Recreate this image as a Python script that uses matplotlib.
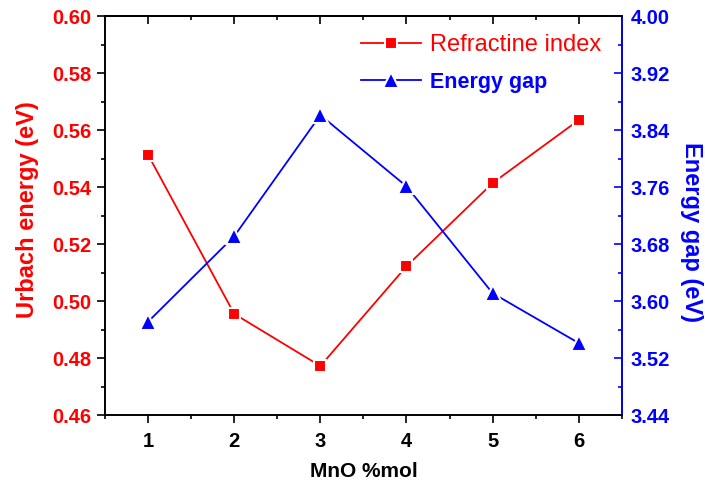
import matplotlib.pyplot as plt
from matplotlib.ticker import MultipleLocator, FormatStrFormatter
from matplotlib.lines import Line2D

plt.rcParams['font.family'] = ['Liberation Sans', 'DejaVu Sans']

mno = [1, 2, 3, 4, 5, 6]
urbach = [0.5513, 0.4955, 0.4772, 0.5122, 0.5414, 0.5635]
gap = [3.571, 3.691, 3.861, 3.761, 3.611, 3.541]

red = '#ff0000'
blue = '#0000ff'

fig = plt.figure(figsize=(7.05, 4.86), dpi=100)
ax = fig.add_axes([0.149, 0.146, 0.733, 0.821])
ax2 = ax.twinx()

# white marker edges leave a small gap between the line and the marker
sq_style = dict(color=red, marker='s', markersize=9, markeredgecolor='white',
                markeredgewidth=1.5, linewidth=1.3)
tri_style = dict(color=blue, marker='^', markersize=12, markeredgecolor='white',
                 markeredgewidth=1.5, linewidth=1.3)
ax.plot(mno, urbach, **sq_style)
ax2.plot(mno, gap, **tri_style)

ax.set_xlim(0.5, 6.5)
ax.set_ylim(0.46, 0.60)
ax2.set_ylim(3.44, 4.00)

ax.xaxis.set_major_locator(MultipleLocator(1))
ax.xaxis.set_minor_locator(MultipleLocator(0.5))
ax.yaxis.set_major_locator(MultipleLocator(0.02))
ax.yaxis.set_minor_locator(MultipleLocator(0.01))
ax.yaxis.set_major_formatter(FormatStrFormatter('%.2f'))
ax2.yaxis.set_major_locator(MultipleLocator(0.08))
ax2.yaxis.set_minor_locator(MultipleLocator(0.04))
ax2.yaxis.set_major_formatter(FormatStrFormatter('%.2f'))

ax.tick_params(axis='x', which='both', direction='out', labelsize=14.5, width=1.2, pad=6)
ax.tick_params(axis='x', which='major', length=6)
ax.tick_params(axis='x', which='minor', length=3)
ax.tick_params(axis='y', which='major', length=6, width=1.2, labelsize=14.5,
               labelcolor=red, pad=4)
ax.tick_params(axis='y', which='minor', length=3, width=1.2)
# right axis ticks point inward
ax2.tick_params(axis='y', which='both', direction='in', width=1.2, labelsize=14.5,
                color=blue, labelcolor=blue, pad=6.5)
ax2.tick_params(axis='y', which='major', length=6)
ax2.tick_params(axis='y', which='minor', length=3)

# inward ticks along the top edge
top = ax.secondary_xaxis('top')
top.xaxis.set_major_locator(MultipleLocator(1))
top.xaxis.set_minor_locator(MultipleLocator(0.5))
top.tick_params(which='both', direction='in', labeltop=False, width=1.2)
top.tick_params(which='major', length=6)
top.tick_params(which='minor', length=3)
top.spines['top'].set_linewidth(1.2)

for lab in ax.get_xticklabels() + ax.get_yticklabels() + ax2.get_yticklabels():
    lab.set_fontweight('bold')

for s in ax.spines.values():
    s.set_linewidth(1.2)
for s in ax2.spines.values():
    s.set_linewidth(1.2)
ax2.spines['right'].set_color(blue)

ax.set_xlabel('MnO %mol', fontsize=15, fontweight='bold', labelpad=8)
ax.set_ylabel('Urbach energy (eV)', fontsize=17, fontweight='bold', color=red, labelpad=9)
ax2.set_ylabel('Energy gap (eV)', fontsize=17, fontweight='bold', color=blue,
               rotation=270, va='bottom', labelpad=7)
ax.yaxis.label.set_y(0.515)
ax2.yaxis.label.set_y(0.46)

handles = [Line2D([], [], **sq_style), Line2D([], [], **tri_style)]
leg = ax.legend(handles, ['Refractine index', 'Energy gap'], loc='upper left',
                bbox_to_anchor=(0.465, 0.995), frameon=False, fontsize=16,
                handlelength=2.7, handletextpad=0.4, labelspacing=0.73,
                borderaxespad=0.3)
texts = leg.get_texts()
texts[0].set_color(red)
texts[0].set_fontsize(17)
texts[1].set_color(blue)
texts[1].set_fontweight('bold')
texts[1].set_fontsize(15.5)

fig.savefig('out.png', dpi=100)
